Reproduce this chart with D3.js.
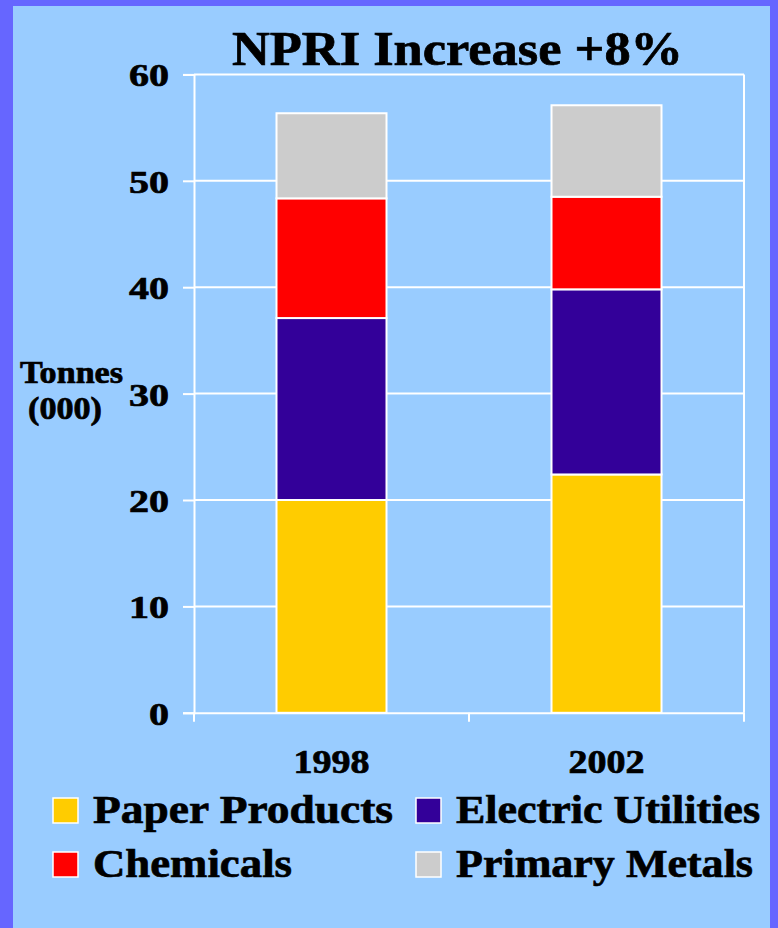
<!DOCTYPE html>
<html><head><meta charset="utf-8">
<script src="https://cdn.jsdelivr.net/npm/d3@7/dist/d3.min.js"></script>
<style>
html,body{margin:0;padding:0;background:#6666ff;}
svg{display:block;}
text{font-family:"Liberation Serif","Times New Roman",serif;font-weight:bold;fill:#000;stroke:#000;stroke-width:0.7px;}
</style></head>
<body>
<svg id="chart" width="778" height="928"></svg>
<script>
const title = "NPRI Increase +8%";
const years = ["1998", "2002"];
const seriesNames = ["Paper Products", "Electric Utilities", "Chemicals", "Primary Metals"];
const seriesColors = ["#ffcc00", "#330099", "#ff0000", "#cccccc"];
const paperProducts = [20.0, 22.4];
const electricUtilities = [17.1, 17.4];
const chemicals = [11.25, 8.7];
const primaryMetals = [8.0, 8.6];
const yTicks = [0, 10, 20, 30, 40, 50, 60];
const yTitle = ["Tonnes", "(000)"];

const seriesValues = [paperProducts, electricUtilities, chemicals, primaryMetals];
const table = years.map((y, i) => {
  const row = {year: y};
  seriesNames.forEach((s, j) => row[s] = seriesValues[j][i]);
  return row;
});

const svg = d3.select("#chart");
svg.append("rect").attr("x", 13).attr("y", 6).attr("width", 757).attr("height", 922).attr("fill", "#99ccff");

const plot = {left: 194, right: 744, top: 74.4, bottom: 712.8};
const x = d3.scaleBand().domain(years).range([plot.left, plot.right]).paddingInner(0.6).paddingOuter(0.3);
const xOuter = d3.scaleBand().domain(years).range([plot.left, plot.right]);
const y = d3.scaleLinear().domain([0, 60]).range([plot.bottom, plot.top]);

// gridlines
svg.append("g").selectAll("line").data(yTicks.filter(d => d > 0)).join("line")
  .attr("x1", plot.left).attr("x2", plot.right)
  .attr("y1", d => y(d)).attr("y2", d => y(d))
  .attr("stroke", "#fff").attr("stroke-width", 2);
svg.append("line").attr("x1", plot.right).attr("x2", plot.right).attr("y1", plot.top).attr("y2", plot.bottom)
  .attr("stroke", "#fff").attr("stroke-width", 2);

// stacked bars
const stack = d3.stack().keys(seriesNames)(table);
svg.append("g").selectAll("g").data(stack).join("g")
  .attr("fill", (d, i) => seriesColors[i])
  .selectAll("rect").data(d => d).join("rect")
  .attr("x", d => x(d.data.year))
  .attr("width", x.bandwidth())
  .attr("y", d => y(d[1]))
  .attr("height", d => y(d[0]) - y(d[1]))
  .attr("stroke", "#fff").attr("stroke-width", 2);

// y axis
const yAxis = svg.append("g").attr("transform", `translate(${plot.left},0)`)
  .call(d3.axisLeft(y).tickValues(yTicks).tickSize(11).tickPadding(14).tickFormat(d3.format("d")));
yAxis.select(".domain").attr("stroke", "#fff").attr("stroke-width", 2);
yAxis.selectAll(".tick line").attr("stroke", "#fff").attr("stroke-width", 2);
yAxis.selectAll(".tick text").attr("font-size", 32).attr("font-family", null).attr("fill", "#000")
  .attr("dy", "0.36em")
  .attr("textLength", d => String(d).length * 20).attr("lengthAdjust", "spacingAndGlyphs");

// x axis
const xAxis = svg.append("g").attr("transform", `translate(0,${plot.bottom})`)
  .call(d3.axisBottom(xOuter).tickSize(0).tickFormat(""));
xAxis.select(".domain").attr("stroke", "#fff").attr("stroke-width", 2);
const xBounds = [plot.left, ...years.slice(1).map(d => xOuter(d)), plot.right];
svg.append("g").selectAll("line").data(xBounds).join("line")
  .attr("x1", d => d).attr("x2", d => d).attr("y1", plot.bottom).attr("y2", plot.bottom + 9)
  .attr("stroke", "#fff").attr("stroke-width", 2);
svg.append("g").selectAll("text").data(years).join("text")
  .attr("x", d => xOuter(d) + xOuter.bandwidth() / 2 - 38).attr("y", 773)
  .attr("font-size", 33).attr("textLength", 76).attr("lengthAdjust", "spacingAndGlyphs")
  .text(d => d);

// title
svg.append("text").attr("x", 232).attr("y", 65)
  .attr("font-size", 48).attr("textLength", 451).attr("lengthAdjust", "spacingAndGlyphs")
  .text(title);

// y title
svg.append("text").attr("x", 20).attr("y", 383).attr("font-size", 31)
  .attr("textLength", 103).attr("lengthAdjust", "spacingAndGlyphs").text(yTitle[0]);
svg.append("text").attr("x", 28).attr("y", 419).attr("font-size", 31)
  .attr("textLength", 74).attr("lengthAdjust", "spacingAndGlyphs").text(yTitle[1]);

// legend
const legendPos = [
  {sx: 53, tx: 93, base: 823, w: 300},
  {sx: 416, tx: 456, base: 823, w: 304},
  {sx: 53, tx: 93, base: 877, w: 199},
  {sx: 416, tx: 456, base: 877, w: 297}
];
const lg = svg.append("g").selectAll("g").data(seriesNames).join("g");
lg.append("rect")
  .attr("x", (d, i) => legendPos[i].sx).attr("y", (d, i) => legendPos[i].base - 25)
  .attr("width", 25).attr("height", 25)
  .attr("fill", (d, i) => seriesColors[i]).attr("stroke", "#fff").attr("stroke-width", 1.5);
lg.append("text")
  .attr("x", (d, i) => legendPos[i].tx).attr("y", (d, i) => legendPos[i].base)
  .attr("font-size", 41).attr("textLength", (d, i) => legendPos[i].w).attr("lengthAdjust", "spacingAndGlyphs")
  .text(d => d);
</script>
</body></html>
